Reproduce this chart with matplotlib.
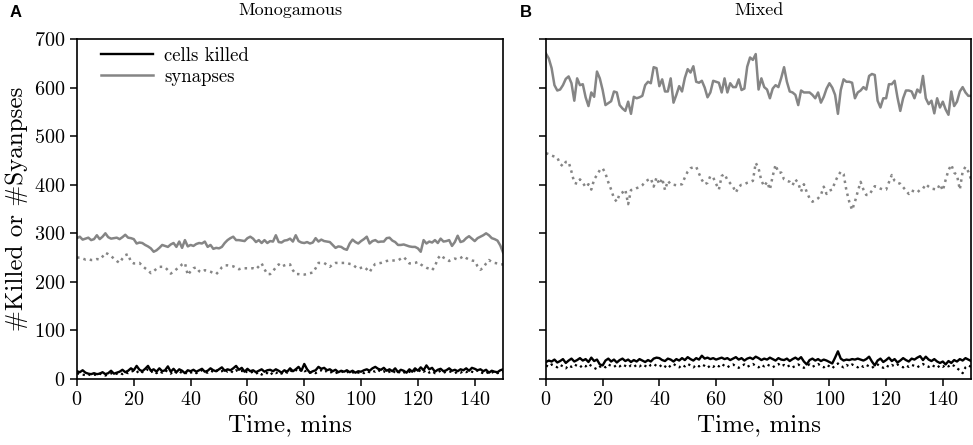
import numpy as np
import matplotlib
matplotlib.use("Agg")
from matplotlib import pyplot as plt

# time axis, one sample per minute
minutes = np.arange(0, 151)

# panel A, monogamous
mono_killed = [16, 14, 18, 13, 11, 10, 12, 10, 11, 14, 10, 12, 17, 11, 13, 15, 19, 14, 17, 22,
               18, 27, 19, 16, 21, 27, 17, 20, 15, 22, 16, 18, 26, 15, 21, 14, 20, 17, 12, 18,
               16, 19, 15, 18, 21, 15, 17, 22, 18, 16, 20, 24, 17, 20, 18, 22, 27, 19, 23, 15,
               21, 16, 18, 14, 17, 20, 15, 18, 19, 16, 20, 17, 13, 18, 15, 22, 16, 20, 25, 17,
               31, 20, 13, 16, 18, 25, 21, 23, 18, 20, 16, 19, 14, 17, 15, 18, 14, 17, 13, 16,
               15, 18, 20, 17, 22, 25, 21, 19, 23, 17, 20, 16, 22, 14, 19, 17, 13, 20, 15, 22,
               17, 24, 18, 28, 20, 23, 15, 19, 21, 16, 18, 22, 17, 19, 16, 20, 18, 22, 17, 23,
               21, 18, 20, 16, 19, 13, 17, 15, 14, 18, 20]
mono_killed_alt = [12, 10, 9, 8, 10, 7, 9, 8, 11, 9, 7, 10, 12, 9, 11, 13, 10, 14, 12, 15,
                   17, 13, 18, 14, 16, 20, 14, 17, 12, 16, 13, 18, 15, 11, 17, 13, 16, 12, 14, 10,
                   13, 15, 12, 16, 18, 14, 13, 17, 15, 19, 14, 16, 20, 15, 17, 13, 18, 15, 17, 12,
                   16, 13, 15, 11, 14, 9, 13, 12, 8, 14, 12, 15, 11, 16, 13, 18, 15, 19, 14, 20,
                   16, 17, 13, 15, 12, 16, 18, 14, 17, 13, 15, 12, 14, 16, 13, 15, 12, 14, 11, 13,
                   15, 12, 16, 14, 17, 15, 19, 14, 16, 12, 15, 18, 13, 16, 11, 14, 12, 15, 13, 17,
                   14, 19, 15, 18, 13, 16, 12, 14, 17, 13, 15, 16, 14, 12, 15, 13, 16, 14, 17, 15,
                   13, 18, 14, 12, 15, 11, 13, 16, 12, 14, 15]
mono_syn = [290, 293, 287, 289, 291, 286, 288, 296, 288, 293, 300, 292, 289, 290, 291, 288, 292, 297, 291, 290,
            288, 279, 281, 280, 276, 273, 269, 262, 265, 270, 276, 274, 272, 277, 280, 272, 283, 270, 286, 273,
            276, 274, 278, 280, 279, 283, 272, 276, 268, 270, 269, 272, 280, 286, 290, 293, 286, 286, 285, 284,
            290, 293, 289, 282, 286, 280, 286, 280, 284, 283, 296, 282, 281, 285, 286, 289, 283, 296, 284, 281,
            280, 282, 279, 281, 290, 283, 287, 284, 283, 282, 276, 270, 273, 272, 268, 266, 279, 287, 282, 279,
            284, 288, 293, 279, 284, 286, 282, 283, 283, 290, 291, 285, 282, 276, 276, 277, 275, 273, 272, 272,
            269, 262, 286, 279, 283, 281, 286, 280, 289, 283, 284, 286, 274, 282, 295, 282, 284, 290, 294, 289,
            284, 290, 293, 296, 300, 296, 290, 288, 285, 275, 260]
mono_syn_alt = [250, 250, 248, 246, 247, 245, 245, 247, 246, 252, 260, 257, 253, 248, 243, 239, 248, 255, 257, 241,
                238, 238, 239, 233, 228, 224, 218, 222, 227, 231, 231, 230, 224, 217, 221, 226, 230, 236, 239, 214,
                222, 228, 230, 222, 220, 224, 223, 221, 218, 216, 222, 230, 234, 234, 233, 232, 229, 226, 228, 228,
                228, 228, 228, 226, 232, 238, 226, 216, 216, 222, 230, 236, 231, 234, 236, 236, 224, 216, 216, 215,
                215, 216, 218, 219, 228, 239, 239, 239, 235, 231, 236, 239, 239, 239, 239, 239, 237, 236, 231, 227,
                229, 231, 226, 220, 230, 237, 238, 239, 241, 243, 244, 244, 244, 244, 248, 251, 245, 238, 238, 239,
                241, 236, 232, 229, 227, 224, 232, 248, 255, 250, 247, 243, 246, 248, 246, 249, 253, 249, 246, 244,
                243, 232, 225, 229, 238, 245, 241, 239, 238, 236, 236]

# panel B, mixed
mixed_killed = [35, 38, 36, 40, 34, 37, 41, 33, 38, 42, 36, 39, 43, 38, 41, 35, 44, 37, 40, 30,
                28, 38, 42, 36, 40, 34, 39, 42, 37, 40, 35, 39, 36, 41, 38, 35, 39, 36, 42, 44,
                43, 39, 37, 42, 40, 36, 41, 38, 43, 39, 45, 41, 38, 43, 40, 48, 42, 44, 41, 43,
                40, 42, 44, 41, 43, 39, 42, 45, 40, 43, 38, 42, 44, 41, 46, 43, 39, 42, 40, 44,
                41, 38, 43, 40, 39, 42, 37, 41, 44, 40, 45, 36, 30, 39, 42, 38, 41, 37, 40, 38,
                35, 32, 44, 57, 42, 38, 40, 39, 41, 40, 42, 40, 38, 41, 46, 36, 28, 38, 42, 35,
                39, 44, 37, 41, 34, 38, 43, 39, 36, 42, 40, 44, 47, 39, 46, 40, 37, 41, 36, 33,
                36, 30, 37, 33, 39, 36, 41, 38, 43, 40, 37]
mixed_killed_alt = [28, 25, 30, 27, 24, 29, 26, 22, 28, 25, 30, 27, 24, 29, 26, 31, 27, 23, 20, 25,
                    28, 24, 30, 27, 25, 29, 26, 30, 27, 24, 28, 25, 29, 26, 30, 27, 24, 29, 31, 27,
                    25, 30, 26, 22, 28, 31, 27, 24, 29, 26, 31, 28, 24, 29, 26, 30, 27, 23, 28, 25,
                    29, 26, 31, 27, 24, 28, 30, 26, 23, 27, 30, 25, 28, 31, 27, 24, 29, 26, 30, 27,
                    24, 28, 31, 26, 29, 25, 28, 24, 27, 30, 26, 23, 27, 30, 25, 28, 31, 27, 24, 29,
                    26, 22, 28, 32, 27, 24, 29, 26, 30, 27, 24, 28, 25, 29, 26, 23, 27, 30, 26, 23,
                    28, 25, 29, 26, 30, 27, 24, 28, 25, 29, 27, 24, 28, 31, 27, 25, 29, 26, 23, 28,
                    25, 29, 26, 30, 27, 22, 18, 12, 24, 28, 25]
mixed_syn = [670, 660, 640, 605, 594, 596, 605, 618, 623, 609, 573, 619, 605, 607, 580, 562, 590, 581, 633, 619,
             595, 564, 568, 572, 592, 590, 564, 557, 552, 571, 546, 581, 578, 580, 583, 605, 612, 609, 642, 640,
             603, 617, 592, 592, 619, 569, 585, 603, 592, 620, 638, 631, 644, 612, 610, 614, 600, 580, 590, 614,
             612, 610, 590, 619, 590, 609, 601, 601, 617, 595, 598, 643, 662, 657, 669, 596, 619, 601, 596, 578,
             598, 605, 601, 620, 642, 612, 592, 590, 585, 564, 594, 590, 590, 590, 585, 578, 590, 569, 581, 598,
             609, 600, 585, 546, 595, 617, 612, 612, 610, 578, 590, 594, 601, 596, 624, 628, 626, 573, 559, 578,
             578, 607, 607, 614, 580, 552, 578, 594, 594, 592, 578, 596, 590, 624, 578, 566, 573, 547, 578, 559,
             571, 555, 544, 592, 562, 571, 592, 601, 590, 583, 583]
mixed_syn_alt = [465, 463, 460, 458, 456, 443, 438, 447, 447, 427, 404, 402, 411, 404, 395, 401, 390, 411, 420, 430,
                 434, 423, 405, 390, 372, 365, 381, 384, 390, 360, 389, 390, 393, 395, 399, 406, 410, 413, 396, 415,
                 401, 413, 389, 408, 401, 400, 399, 400, 401, 415, 427, 434, 436, 437, 423, 410, 401, 404, 418, 415,
                 402, 390, 418, 422, 410, 403, 396, 384, 396, 400, 401, 404, 406, 408, 445, 434, 408, 397, 406, 390,
                 418, 441, 425, 425, 411, 408, 406, 399, 411, 403, 386, 401, 385, 372, 365, 368, 372, 379, 396, 381,
                 388, 390, 406, 418, 427, 422, 388, 365, 348, 365, 386, 406, 390, 379, 379, 388, 397, 395, 392, 390,
                 390, 405, 420, 408, 404, 402, 395, 388, 381, 388, 386, 384, 390, 392, 401, 396, 392, 391, 390, 401,
                 388, 410, 430, 441, 425, 420, 390, 427, 437, 427, 411]

panels = [
    ("A", "Monogamous", mono_killed, mono_killed_alt, mono_syn, mono_syn_alt),
    ("B", "Mixed", mixed_killed, mixed_killed_alt, mixed_syn, mixed_syn_alt),
]

plt.rcParams["font.family"] = ["cmr10", "DejaVu Serif"]
plt.rcParams["axes.formatter.use_mathtext"] = True
plt.rcParams["axes.linewidth"] = 1.2

fig = plt.figure(figsize=(9.73, 4.45), dpi=100)
boxes = [[0.0791, 0.1483, 0.438, 0.764], [0.5611, 0.1483, 0.437, 0.764]]

gray = "#858585"
for i, (letter, title, killed, killed_alt, syn, syn_alt) in enumerate(panels):
    ax = fig.add_axes(boxes[i])
    ax.plot(minutes, killed, color="black", lw=1.7, label="cells killed")
    ax.plot(minutes, syn, color=gray, lw=1.8, label="synapses")
    ax.plot(minutes, killed_alt, color="black", lw=1.6, ls=":")
    ax.plot(minutes, syn_alt, color=gray, lw=1.8, ls=":")
    ax.set_xlim(0, 150)
    ax.set_ylim(0, 700)
    ax.set_xticks(range(0, 150, 20))
    ax.set_yticks(range(0, 701, 100))
    ax.tick_params(direction="out", length=5, width=1.1, labelsize=14.5,
                   top=False, right=False)
    ax.set_xlabel("Time, mins", fontsize=18, labelpad=4)
    ax.set_title(title, fontsize=13, pad=17)
    if i == 0:
        ax.set_ylabel("#Killed or #Syanpses", fontsize=18, labelpad=4)
        ax.legend(loc="upper left", frameon=False, fontsize=13.5, handlelength=2.8,
                  handletextpad=0.6, borderaxespad=0.3, labelspacing=0.15,
                  bbox_to_anchor=(0.025, 1.015))
    else:
        ax.tick_params(axis="y", labelleft=False)
    fig.text(boxes[i][0] - (0.069 if i == 0 else 0.027), 0.972, letter,
             fontsize=12, fontweight="bold", family="Liberation Sans",
             ha="left", va="center")

plt.savefig("out.png", dpi=100)
